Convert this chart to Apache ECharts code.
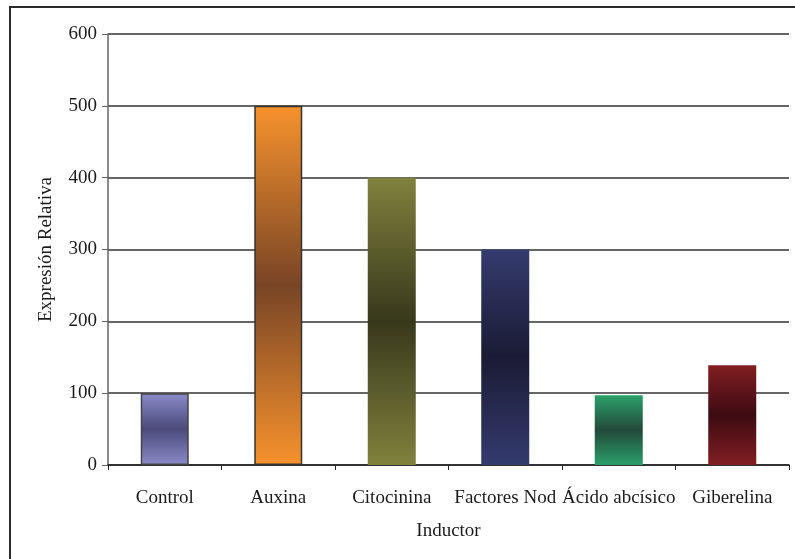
<!DOCTYPE html>
<html>
<head>
<meta charset="utf-8">
<script src="https://cdn.jsdelivr.net/npm/echarts@6/dist/echarts.min.js"></script>
<style>
  html, body { margin: 0; padding: 0; background: #fff; }
  #chart { width: 795px; height: 559px; }
</style>
</head>
<body>
<div id="chart"></div>
<script>
// Relative expression of the gene under each inducer
const categories = ['Control', 'Auxina', 'Citocinina', 'Factores Nod', 'Ácido abcísico', 'Giberelina'];
const values = [100, 500, 400, 300, 97, 139];
// Bar fills: colour at the bar ends and colour at the bar centre
const edgeColors = ['#8a8ccb', '#f7922d', '#80823d', '#343b6e', '#2ba06a', '#821e22'];
const midColors  = ['#4c4a7a', '#784526', '#38381c', '#1b1b34', '#23493a', '#3c0b12'];
const borderColors = ['#444444', '#333333', null, null, null, null];

const yTicks = { min: 0, max: 600, interval: 100 };
const font = '"Liberation Serif", "Times New Roman", serif';

function gradient(edge, mid) {
  return new echarts.graphic.LinearGradient(0, 0, 0, 1, [
    { offset: 0, color: edge },
    { offset: 0.5, color: mid },
    { offset: 1, color: edge }
  ]);
}

const chart = echarts.init(document.getElementById('chart'), null, { renderer: 'canvas' });
chart.setOption({
  animation: false,
  backgroundColor: '#ffffff',
  graphic: [{
    type: 'rect',
    shape: { x: 10, y: 7, width: 820, height: 600 },
    style: { fill: 'none', stroke: '#2b2b2b', lineWidth: 2 },
    silent: true
  }],
  grid: { left: 108, right: 6, top: 34, bottom: 94 },
  xAxis: {
    type: 'category',
    data: categories,
    name: 'Inductor',
    nameLocation: 'middle',
    nameGap: 57,
    nameTextStyle: { fontFamily: font, fontSize: 19, color: '#1a1a1a' },
    axisLine: { lineStyle: { color: '#222', width: 1.5 } },
    axisTick: { show: true, length: 5, lineStyle: { color: '#222' } },
    axisLabel: { fontFamily: font, fontSize: 19, color: '#1a1a1a', margin: 24, interval: 0 }
  },
  yAxis: {
    type: 'value',
    min: yTicks.min, max: yTicks.max, interval: yTicks.interval,
    name: 'Expresión Relativa',
    nameLocation: 'middle',
    nameGap: 52,
    nameTextStyle: { fontFamily: font, fontSize: 19, color: '#1a1a1a' },
    axisLine: { show: true, lineStyle: { color: '#666', width: 1.5 } },
    axisTick: { show: true, length: 6, lineStyle: { color: '#666' } },
    axisLabel: { fontFamily: font, fontSize: 19, color: '#1a1a1a', margin: 11 },
    splitLine: { show: true, lineStyle: { color: '#333', width: 1.5 } }
  },
  series: [{
    type: 'bar',
    barWidth: 48,
    data: values.map((v, i) => ({
      value: v,
      itemStyle: {
        color: gradient(edgeColors[i], midColors[i]),
        borderColor: borderColors[i] || 'transparent',
        borderWidth: borderColors[i] ? 1.5 : 0
      }
    }))
  }]
});
</script>
</body>
</html>
